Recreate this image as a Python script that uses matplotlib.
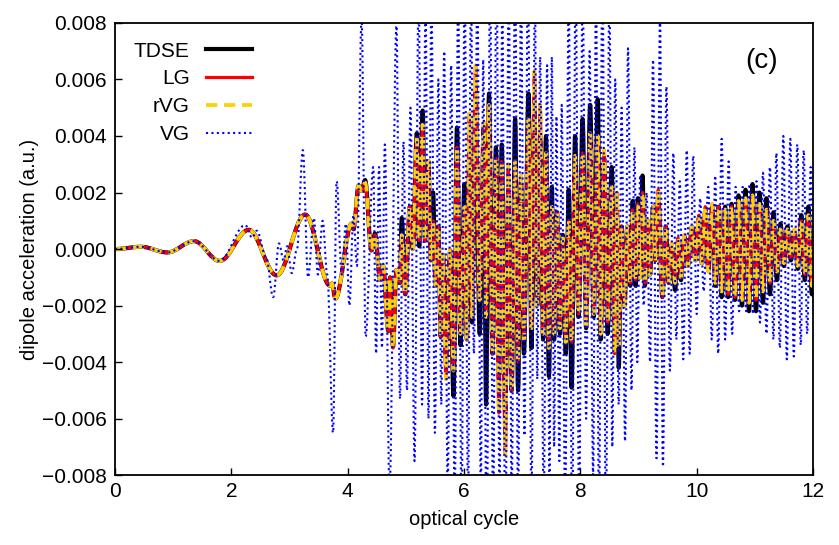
"""Dipole acceleration vs optical cycle: TDSE vs LG / rVG / VG gauges, panel (c)."""
import matplotlib
matplotlib.use("Agg")
import matplotlib.pyplot as plt
from matplotlib.lines import Line2D
from matplotlib.patches import PathPatch
from matplotlib.path import Path
from matplotlib.ticker import FuncFormatter, MultipleLocator

plt.rcParams["font.family"] = ["Liberation Sans", "DejaVu Sans"]

SCALE = 1e-3  # listed values are in units of 1e-3 a.u.

# turning points (optical cycle) shared by TDSE, LG and rVG
t_turn = [
    0.00, 0.45, 0.90, 1.36, 1.80, 2.30, 2.78, 3.27, 3.70, 3.73,
    3.79, 4.07, 4.10, 4.19, 4.24, 4.30, 4.41, 4.47, 4.56, 4.61,
    4.70, 4.73, 4.78, 4.84, 4.90, 4.93, 4.99, 5.07, 5.12, 5.19,
    5.23, 5.29, 5.33, 5.39, 5.43, 5.47, 5.51, 5.56, 5.60, 5.64,
    5.69, 5.76, 5.82, 5.88, 5.94, 6.01, 6.05, 6.09, 6.14, 6.20,
    6.27, 6.34, 6.38, 6.43, 6.49, 6.55, 6.60, 6.65, 6.71, 6.76,
    6.82, 6.88, 6.93, 6.98, 7.03, 7.11, 7.16, 7.21, 7.26, 7.31,
    7.36, 7.41, 7.46, 7.51, 7.55, 7.60, 7.65, 7.70, 7.75, 7.80,
    7.85, 7.91, 7.97, 8.04, 8.10, 8.17, 8.23, 8.30, 8.35, 8.41,
    8.47, 8.54, 8.59, 8.63, 8.66, 8.71, 8.76, 8.81, 8.86, 8.90,
    8.95, 8.99, 9.03, 9.07, 9.11, 9.16, 9.20, 9.25, 9.29, 9.34,
    9.41, 9.47, 9.52, 9.57, 9.63, 9.68, 9.73, 9.79, 9.85, 9.92,
    9.98, 10.04, 10.09, 10.15, 10.20, 10.27, 10.32, 10.38, 10.43, 10.49,
    10.54, 10.60, 10.66, 10.72, 10.78, 10.84, 10.90, 10.96, 11.02, 11.08,
    11.14, 11.20, 11.26, 11.32, 11.38, 11.44, 11.50, 11.56, 11.62, 11.68,
    11.74, 11.80, 11.86, 11.92, 11.98, 12.04,
]

tdse_acc = [
    0.00, 0.08, -0.12, 0.28, -0.42, 0.68, -0.93, 1.22, -1.30, -1.22,
    -1.75, 0.90, 0.70, 2.25, 2.05, 2.44, -0.05, 0.55, -1.10, -0.60,
    -2.90, -1.00, -3.46, -0.74, -1.20, 1.10, -1.60, 1.50, 0.00, 4.10,
    0.10, 4.90, 0.30, 3.10, -0.40, 2.00, -1.30, 0.80, -3.10, -0.20,
    -4.00, -0.10, -5.20, 4.30, -3.40, 2.30, -3.20, 3.00, -2.60, 5.50,
    -3.00, 4.30, -5.50, 5.50, -3.70, 3.60, -4.60, 3.70, -6.00, 2.00,
    -5.00, 4.60, -5.00, 2.40, -3.70, 5.50, -3.50, 4.80, -2.00, 4.00,
    -3.20, 4.00, -4.50, 2.20, -3.20, 1.30, -3.00, 0.50, -3.70, 2.10,
    -4.90, 4.00, -2.40, 4.60, -2.80, 5.10, -2.40, 5.30, -3.20, 3.20,
    -3.00, 2.90, -3.60, 1.50, -4.20, 0.80, -2.00, 0.80, -1.30, 1.70,
    -1.30, 1.80, -1.00, 2.60, -1.30, 1.00, -0.90, 1.50, -0.40, 1.80,
    -1.70, 0.80, -1.20, 0.10, -1.45, 0.30, -1.10, 0.45, -0.60, 0.80,
    -0.40, 1.10, -0.50, 1.40, -0.75, 1.50, -1.30, 1.50, -1.70, 1.50,
    -1.70, 1.60, -1.80, 1.90, -2.00, 2.10, -2.20, 2.30, -2.20, 2.00,
    -1.90, 1.80, -1.60, 1.30, -1.10, 0.90, -0.60, 0.80, -0.40, 0.60,
    -0.70, 1.20, -1.10, 1.50, -1.60, 0.80,
]

lg_acc = [
    0.00, 0.08, -0.12, 0.28, -0.42, 0.68, -0.93, 1.22, -1.30, -1.22,
    -1.75, 0.90, 0.70, 2.25, 2.05, 2.35, -0.05, 0.50, -1.10, -0.60,
    -2.90, -1.00, -3.50, -0.74, -1.20, 0.50, -1.60, 1.50, 0.00, 3.90,
    0.30, 4.40, 0.30, 3.10, -0.40, 1.00, -1.30, 0.80, -3.10, -0.20,
    -4.60, 0.00, -4.30, 3.60, -3.00, 1.50, -3.20, 4.80, -2.40, 6.50,
    -1.80, 4.50, -2.40, 5.10, -3.70, 3.20, -5.80, 3.10, -7.30, 3.00,
    -5.00, 3.10, -4.00, 2.60, -3.20, 4.60, -2.80, 6.30, -2.00, 5.10,
    -3.00, 3.40, -3.50, 1.50, -3.00, 1.30, -2.80, 0.40, -3.30, 1.00,
    -3.30, 3.30, -2.30, 3.40, -2.70, 4.10, -2.30, 4.00, -3.00, 3.50,
    -2.60, 2.20, -3.70, 2.00, -3.40, 0.80, -2.00, 0.80, -1.20, 1.40,
    -1.10, 1.60, -1.00, 2.00, -1.20, 1.00, -0.90, 1.50, -0.40, 2.10,
    -1.70, 0.80, -1.20, 0.20, -1.20, 0.40, -1.00, 0.50, -0.60, 0.80,
    -0.40, 1.20, -0.50, 1.50, -0.80, 1.60, -1.20, 1.50, -1.50, 1.40,
    -1.60, 1.50, -1.70, 1.70, -1.80, 1.80, -1.90, 1.90, -1.80, 1.60,
    -1.50, 1.40, -1.20, 1.00, -0.80, 0.70, -0.50, 0.70, -0.30, 0.70,
    -0.60, 1.00, -0.90, 1.20, -1.30, 0.60,
]

# rVG lies on top of LG to within the line width
rvg_acc = list(lg_acc)

# VG has its own turning points
t_vg = [
    0.00, 0.45, 0.90, 1.36, 1.80, 2.24, 2.36, 2.44, 2.60, 2.72,
    2.82, 2.90, 2.96, 3.04, 3.13, 3.23, 3.32, 3.42, 3.49, 3.57,
    3.65, 3.75, 3.81, 3.90, 3.97, 4.03, 4.10, 4.16, 4.24, 4.31,
    4.44, 4.49, 4.54, 4.59, 4.64, 4.72, 4.84, 4.90, 4.96, 5.02,
    5.08, 5.15, 5.22, 5.28, 5.34, 5.39, 5.44, 5.50, 5.56, 5.61,
    5.66, 5.72, 5.78, 5.84, 5.90, 5.96, 6.01, 6.07, 6.12, 6.17,
    6.23, 6.29, 6.33, 6.39, 6.45, 6.50, 6.56, 6.61, 6.66, 6.71,
    6.77, 6.82, 6.88, 6.93, 6.98, 7.04, 7.10, 7.16, 7.22, 7.26,
    7.31, 7.37, 7.43, 7.47, 7.51, 7.55, 7.59, 7.64, 7.68, 7.74,
    7.80, 7.86, 7.92, 7.98, 8.04, 8.10, 8.16, 8.22, 8.27, 8.32,
    8.38, 8.44, 8.50, 8.55, 8.60, 8.66, 8.71, 8.77, 8.82, 8.88,
    8.93, 8.98, 9.03, 9.09, 9.14, 9.20, 9.25, 9.31, 9.37, 9.42,
    9.48, 9.54, 9.60, 9.65, 9.71, 9.77, 9.83, 9.88, 9.94, 10.00,
    10.06, 10.12, 10.20, 10.26, 10.32, 10.37, 10.43, 10.49, 10.55, 10.61,
    10.67, 10.73, 10.79, 10.85, 10.91, 10.97, 11.03, 11.09, 11.14, 11.20,
    11.26, 11.32, 11.37, 11.43, 11.49, 11.55, 11.61, 11.67, 11.73, 11.79,
    11.84, 11.90, 11.96, 12.02,
]

vg_acc = [
    0.00, 0.08, -0.12, 0.28, -0.42, 0.85, 0.40, 0.65, -0.30, -1.70,
    0.20, -0.40, 0.10, -0.85, 0.00, 3.50, -1.00, 1.10, -0.90, 1.00,
    -0.90, -6.50, 2.40, -0.90, 0.90, -2.00, 1.20, -0.60, 8.20, -3.10,
    2.90, -3.70, 2.90, -3.50, 3.70, -8.50, 7.90, -5.30, 3.80, -5.00,
    5.00, -7.50, 9.00, -5.50, 8.50, -6.00, 9.00, -6.50, 6.00, -5.50,
    7.00, -8.50, 6.50, -9.00, 9.00, -10.0, 10.0, -9.00, 9.50, -3.70,
    9.00, -8.50, 6.70, -11.0, 10.0, -10.0, 11.0, -9.00, 9.00, -12.0,
    10.0, -9.00, 11.0, -10.0, 9.50, -6.60, 10.0, -9.00, 9.00, -4.60,
    6.80, -9.00, 6.50, -8.50, 6.80, -7.00, 4.70, -7.50, 5.10, -9.50,
    9.00, -10.0, 10.0, -9.50, 9.50, -6.00, 7.00, -8.00, 9.50, -9.50,
    10.0, -9.50, 9.00, -7.00, 6.00, -5.50, 5.00, -6.80, 7.10, -5.00,
    3.60, -4.00, 2.60, -2.00, 2.00, -4.00, 6.70, -7.40, 8.20, -7.70,
    5.75, -4.30, 3.40, -3.20, 2.40, -3.90, 3.50, -3.70, 3.30, -2.30,
    1.80, -1.50, 2.20, -3.20, 2.60, -3.70, 3.90, -3.20, 3.10, -3.00,
    2.20, -2.20, 2.20, -2.20, 2.30, -2.30, 2.40, -2.60, 2.70, -3.00,
    2.90, -3.20, 3.40, -3.50, 4.00, -3.90, 3.90, -3.80, 3.70, -3.40,
    3.50, -3.00, 2.90, -2.50,
]


def wave_path(t, vals):
    # smooth curve through the turning points (flat tangent at each extremum)
    y = [v * SCALE for v in vals]
    verts = [(t[0], y[0])]
    codes = [Path.MOVETO]
    for i in range(1, len(t)):
        d = 0.36 * (t[i] - t[i - 1])
        verts += [(t[i - 1] + d, y[i - 1]), (t[i] - d, y[i]), (t[i], y[i])]
        codes += [Path.CURVE4] * 3
    return Path(verts, codes)


styles = {
    "TDSE": dict(color="black", lw=3.0, ls="-"),
    "LG": dict(color="#ff0000", lw=2.3, ls="-"),
    "rVG": dict(color="#ffd000", lw=2.7, ls=(0, (3, 1.8))),
    "VG": dict(color="#0000ff", lw=1.5, ls=(0, (1, 1.6))),
}
series = [
    ("TDSE", t_turn, tdse_acc),
    ("LG", t_turn, lg_acc),
    ("rVG", t_turn, rvg_acc),
    ("VG", t_vg, vg_acc),
]

fig = plt.figure(figsize=(8.39, 5.45), dpi=100)
ax = fig.add_axes([0.137, 0.128, 0.832, 0.830])

for name, t, vals in series:
    st = styles[name]
    ax.add_patch(PathPatch(wave_path(t, vals), fill=False, edgecolor=st["color"],
                           lw=st["lw"], linestyle=st["ls"], capstyle="butt",
                           joinstyle="round"))

ax.set_xlim(0, 12)
ax.set_ylim(-0.008, 0.008)
ax.xaxis.set_major_locator(MultipleLocator(2))
ax.yaxis.set_major_locator(MultipleLocator(0.002))
ax.yaxis.set_major_formatter(FuncFormatter(lambda v, _: f"{v:.3f}".replace("-", "\u2212")))
ax.tick_params(direction="in", length=5, width=1, labelsize=15)
ax.tick_params(axis="x", pad=5)
ax.tick_params(axis="y", pad=6)
for sp in ax.spines.values():
    sp.set_linewidth(1.3)

ax.set_xlabel("optical cycle", fontsize=14.5, labelpad=6)
ax.set_ylabel("dipole acceleration (a.u.)", fontsize=14.5, labelpad=2)

handles = [Line2D([], [], color=styles[n]["color"], lw=styles[n]["lw"],
                  ls=styles[n]["ls"]) for n, _, _ in series]
ax.legend(handles, [n for n, _, _ in series], loc="upper left", frameon=False,
          markerfirst=False, fontsize=15, handlelength=2.2, handletextpad=0.8,
          labelspacing=0.42, borderaxespad=0.5)

ax.text(0.927, 0.915, "(c)", transform=ax.transAxes, fontsize=20,
        ha="center", va="center")

fig.savefig("out.png", dpi=100)
